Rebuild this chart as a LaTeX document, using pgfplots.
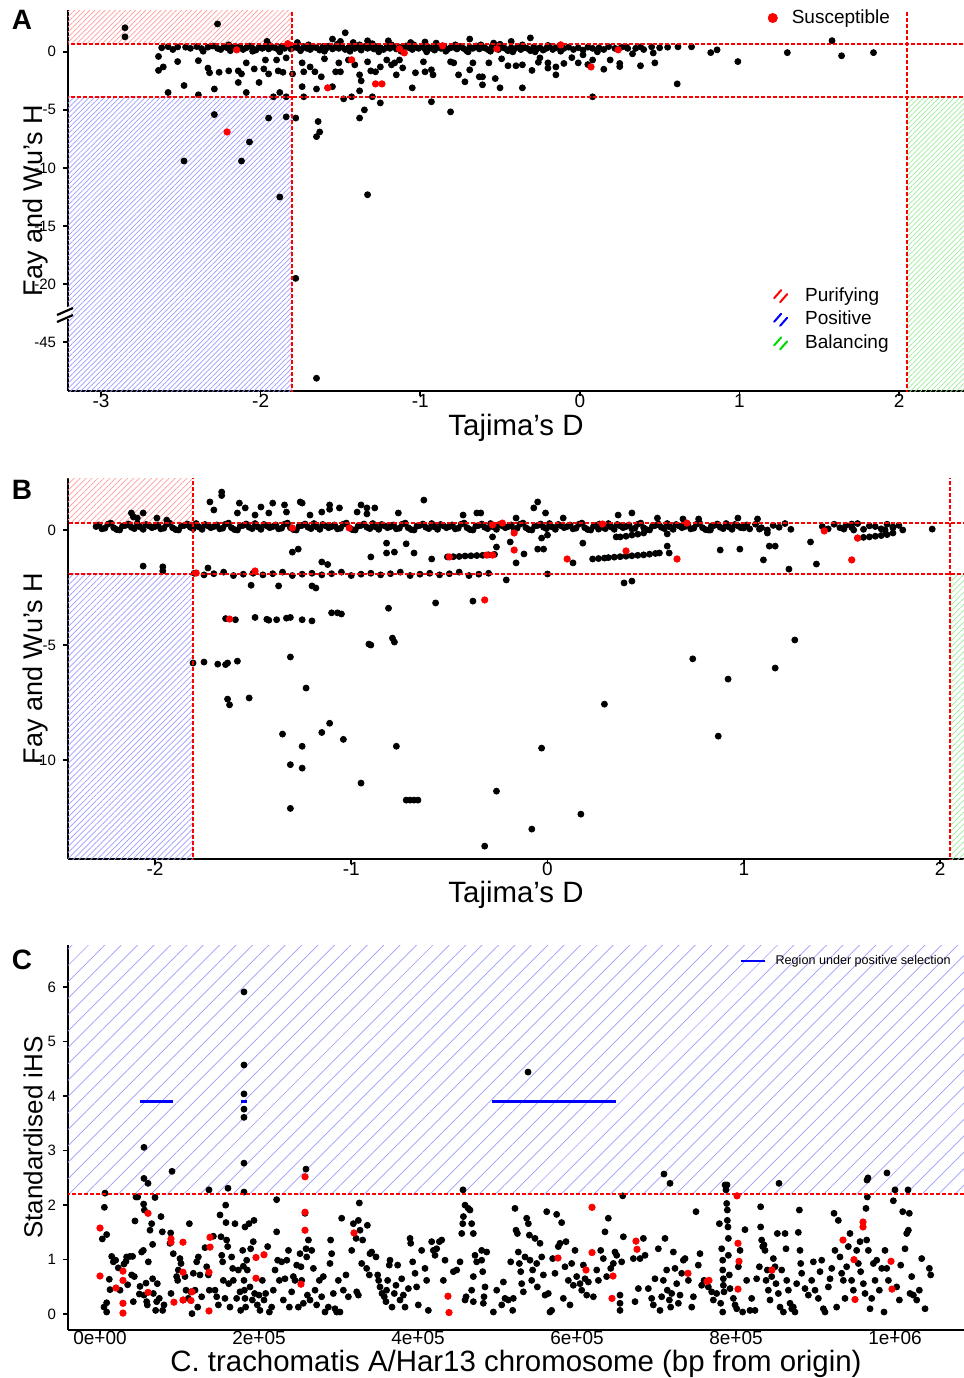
\documentclass[border=0pt]{standalone}
\usepackage{fontspec}
\setmainfont{Liberation Sans}
\usepackage{pgfplots}
\pgfplotsset{compat=1.18}
\usetikzlibrary{patterns.meta}

\definecolor{hatchred}{HTML}{FF9C9C}
\definecolor{hatchblue}{HTML}{9C9CFF}
\definecolor{hatchgreen}{HTML}{9CEB9C}
\definecolor{cutred}{HTML}{FF0000}

\pgfplotsset{
  panel/.style={
    scale only axis, width=448pt,
    axis lines*=left,
    axis line style={line width=1.4pt, black},
    tick align=outside, major tick length=2.5pt,
    every tick/.style={black, line width=0.8pt},
    /pgf/number format/assume math mode=true,
    x tick label style={font=\fontsize{9.5}{10}\selectfont, yshift=4.5pt},
    y tick label style={font=\fontsize{7.5}{8}\selectfont},
    every axis x label/.style={at={(axis description cs:0.5,-0.097)}, anchor=center, font=\fontsize{14.7}{15}\selectfont},
    every axis y label/.style={at={(axis description cs:-0.0368,0.5)}, rotate=90, anchor=center, font=\fontsize{13.5}{14}\selectfont},
    legend style={draw=none, fill=none, inner sep=0pt, outer sep=0pt, font=\fontsize{9.5}{10}\selectfont},
    legend cell align=left,
    clip mode=individual,
  },
  hatch/.style 2 args={draw=none, forget plot, pattern={Lines[angle=45,distance=#1,line width=0.35pt]}, pattern color=#2},
  cut/.style={cutred, line width=0.75pt, dash pattern=on 2pt off 1pt, forget plot},
  dots/.style={only marks, mark=*, mark size=1.5pt, black, mark options={draw=black, fill=black}, forget plot},
  reddots/.style={only marks, mark=*, mark size=1.6pt, red, mark options={draw=red, fill=red}},
}

\begin{document}
\begin{tikzpicture}

% ---------------- panel A ----------------
\begin{axis}[panel, name=axA, at={(34pt,-5pt)}, anchor=north west, height=190.5pt,
  xmin=-3.207, xmax=2.407, ymin=-29.2, ymax=3.6,
  xtick={-3,-2,-1,0,1,2},
  ytick={-25,-20,-15,-10,-5,0}, yticklabels={-45,-20,-15,-10,-5,0},
  xlabel={Tajima's D}, ylabel={Fay and Wu's H},
  legend style={at={(axis description cs:0.781,0.979)}, anchor=west, column sep=5pt}]
\addplot[hatch={1.8pt}{hatchred}] coordinates {(-3.3,0.69) (-1.803,0.69) (-1.803,4) (-3.3,4)} -- cycle;
\addplot[hatch={1.8pt}{hatchblue}] coordinates {(-3.3,-3.88) (-1.803,-3.88) (-1.803,-30) (-3.3,-30)} -- cycle;
\addplot[hatch={1.8pt}{hatchgreen}] coordinates {(2.05,-3.88) (2.5,-3.88) (2.5,-30) (2.05,-30)} -- cycle;
\addplot[dots] coordinates {
(-2.85,2.07)(-2.85,1.29)(-2.27,2.4)
(-2.62,0.35)(-2.58,0.45)(-2.55,0.2)(-2.52,0.42)(-2.47,0.4)(-2.44,0.3)(-2.40,0.45)(-2.37,0.28)(-2.33,0.4)(-2.30,0.5)
(-2.27,0.3)(-2.25,0.2)(-2.23,0.45)(-2.21,0.35)(-2.19,0.1)(-2.17,0.4)(-2.15,0.3)(-2.13,0.45)(-2.11,0.2)(-2.09,0.35)
(-2.07,0.5)(-2.05,0.3)(-2.03,0.15)(-2.01,0.4)(-1.99,0.3)(-1.97,0.45)(-1.95,0.25)(-1.93,0.4)(-1.91,0.35)(-1.89,0.2)
(-1.87,0.45)(-1.85,0.3)(-1.83,0.55)(-1.81,0.25)(-1.79,0.4)(-1.77,0.35)(-1.75,0.1)(-1.73,0.45)(-1.71,0.3)(-1.69,0.2)
(-1.67,0.4)(-1.65,0.35)(-1.63,0.15)(-1.61,0.45)(-1.59,0.3)(-1.57,0.5)(-1.55,0.25)(-1.53,0.4)(-1.51,0.3)(-1.49,0.45)
(-1.47,0.2)(-1.45,0.35)(-1.43,0.5)(-1.41,0.3)(-1.39,0.4)(-1.37,0.15)(-1.35,0.45)(-1.33,0.3)(-1.31,0.4)(-1.29,0.25)
(-1.27,0.45)(-1.25,0.35)(-1.23,0.2)(-1.21,0.4)(-1.19,0.3)(-1.17,0.45)(-1.15,0.25)(-1.13,0.4)(-1.11,0.3)(-1.09,0.5)
(-1.07,0.35)(-1.05,0.2)(-1.03,0.4)(-1.01,0.3)(-0.99,0.45)(-0.97,0.25)(-0.95,0.4)(-0.93,0.3)(-0.91,0.15)(-0.89,0.4)
(-0.87,0.3)(-0.85,0.45)(-0.83,0.2)(-0.81,0.35)(-0.79,0.4)(-0.77,0.25)(-0.75,0.45)(-0.73,0.3)(-0.71,0.1)(-0.69,0.4)
(-0.67,0.3)(-0.65,0.5)(-0.63,0.25)(-0.61,0.4)(-0.59,0.3)(-0.57,0.15)(-0.55,0.45)(-0.53,0.35)(-0.51,0.2)(-0.49,0.4)
(-0.47,0.3)(-0.45,0.1)(-0.43,0.35)(-0.41,0.25)(-0.39,0.4)(-0.37,0.2)(-0.35,0.35)(-0.33,0.3)(-0.31,0.1)(-0.29,0.4)
(-0.27,0.25)(-0.25,0.35)(-0.23,0.15)(-0.21,0.3)(-0.19,0.45)(-0.17,0.2)(-0.15,0.35)(-0.12,0.05)(-0.10,0.3)(-0.07,0.4)
(-0.04,0.2)(-0.01,0.35)(0.02,0.15)(0.05,0.4)(0.08,0.3)(0.12,0.35)(0.15,0.2)(0.18,0.45)(0.22,0.3)(0.26,0.4)(0.30,0.3)
(-2.36,0.05)(-2.2,0.6)(-2.05,0.05)(-1.95,0.6)(-1.88,0.0)(-1.7,0.6)(-1.6,0.05)(-1.52,0.65)(-1.44,0.05)(-1.38,0.6)
(-1.3,0.7)(-1.26,0.0)(-1.18,0.6)(-1.12,0.05)(-1.04,0.6)(-0.96,0.0)(-0.9,0.6)(-0.84,0.05)(-0.78,0.6)(-0.7,0.0)
(-0.62,0.6)(-0.56,0.05)(-0.5,0.65)(-0.42,0.0)(-0.36,0.6)(-0.28,0.0)(-0.2,0.55)
(-1.96,0.9)(-1.77,0.8)(-1.5,0.9)(-1.47,1.64)(-1.55,1.1)(-1.33,0.95)(-1.42,0.8)(-1.2,0.95)(-1.06,0.8)(-0.97,0.85)
(-0.9,0.75)(-0.69,1.1)(-0.54,0.75)(-0.43,0.9)(-0.31,1.2)(1.58,0.96)
(0.615,0.43)(0.70,0.43)(0.82,-0.07)(0.86,0.17)(0.99,-0.84)(1.30,-0.07)(1.64,-0.34)(1.84,-0.07)(0.61,-2.76)(0.08,-3.87)
(0.47,-0.95)(0.46,-0.1)(0.38,-1.2)(0.33,-0.17)(0.25,-1.27)(0.19,-0.7)(0.11,0.0)(0.08,-0.7)(0.02,-0.26)(-0.01,-0.95)
(-0.15,-1.98)(-0.2,-0.95)(-0.2,-1.4)(-0.25,-0.52)(-0.36,-3.1)(-0.36,-1.12)(-0.4,-1.2)(-0.45,-1.2)(-0.5,-3.1)(-0.53,-2.3)
(-0.61,-2.84)(-0.61,-2.15)(-0.57,-0.95)(-0.49,-0.6)(0.29,0.43)(0.38,0.43)(0.45,0.43)
(0.35,0.3)(0.4,0.2)(0.5,0.35)(0.55,0.4)(0.25,-1.0)(0.15,-1.5)(-0.1,-1.0)(-0.05,-0.5)(0.05,-1.1)(-0.3,-1.6)(-0.26,-0.9)(-0.15,-1.3)
(-2.64,-0.4)(-2.64,-1.6)(-2.61,-1.3)(-2.52,-0.84)(-2.58,-3.5)(-2.48,-2.9)(-2.39,-0.76)(-2.33,-1.4)(-2.32,-1.8)(-2.26,-1.76)
(-2.29,-3.2)(-2.39,-3.7)(-2.2,-1.64)(-2.14,-1.64)(-2.14,-2.64)(-2.12,-1.9)(-2.09,-0.95)(-2.09,-3.5)(-2.04,-1.47)(-2.01,-2.64)
(-1.98,-1.47)(-1.97,-0.7)(-1.95,-1.9)(-1.92,-3.87)(-1.9,-0.7)(-1.89,-1.64)(-1.88,-3.5)(-1.84,-3.87)(-1.86,-1.76)(-1.84,-0.52)
(-1.8,-1.9)(-1.74,-0.95)(-1.73,-1.72)(-1.74,-3.0)(-1.73,-3.87)(-1.69,-1.3)(-1.66,-1.72)(-1.65,-3.2)(-1.62,-2.15)(-1.6,-0.6)
(-1.55,-3.0)(-1.53,-1.72)(-1.51,-0.95)(-1.5,-1.72)(-1.48,-4.05)(-1.45,-0.7)(-1.43,-3.87)(-1.41,-1.12)(-1.38,-1.98)(-1.38,-3.36)
(-1.37,-2.5)(-1.35,-5.0)(-1.33,-0.86)(-1.31,-1.64)(-1.3,-3.87)(-1.25,-4.4)(-1.28,-1.72)(-1.25,-1.3)(-1.21,-0.7)(-1.18,-1.12)
(-1.16,-0.95)(-1.15,-1.98)(-1.13,-0.7)(-1.11,-1.38)(-1.05,-3.1)(-1.03,-1.8)(-0.98,-0.86)(-0.97,-1.72)(-0.93,-1.55)(-0.93,-4.3)
(-0.92,-1.98)(-0.81,-0.86)(-0.81,-5.17)(-0.79,-0.95)(-0.76,-1.98)(-0.72,-2.58)(-0.69,-1.55)(-0.63,-2.15)(-0.67,-0.95)
(-1.38,-5.7)(-1.64,-6.0)(-1.63,-6.9)(-1.65,-7.3)(-1.33,-12.3)(-1.78,-5.7)(-1.84,-5.6)(-1.95,-5.7)(-2.29,-5.4)(-2.48,-9.4)
(-2.12,-9.4)(-2.07,-7.76)(-1.88,-12.5)(-1.78,-19.5)(-1.65,-28.1)
};
\addplot[cut] coordinates {(-3.3,0.69) (2.5,0.69)};
\addplot[cut] coordinates {(-3.3,-3.88) (2.5,-3.88)};
\addplot[cut] coordinates {(-1.803,-30) (-1.803,4)};
\addplot[cut] coordinates {(2.05,-30) (2.05,4)};
\addplot[reddots, legend image code/.code={\fill[red] (0pt,0pt) circle (2.3pt);}] coordinates {
(-2.15,0.17)(-2.21,-6.9)(-1.83,0.7)(-1.58,-3.1)(-1.28,-2.76)(-1.24,-2.76)(-1.43,-0.69)(-1.13,0.26)(-1.10,-0.09)
(-0.86,0.52)(-0.52,0.26)(-0.12,0.6)(0.24,0.17)(0.07,-1.3)
};
\addlegendentry{Susceptible}
\end{axis}

% legend of the shaded areas in panel A
\begin{axis}[at={(34pt,-5pt)}, anchor=north west, scale only axis, width=448pt, height=190.5pt,
  hide axis, xmin=0, xmax=1, ymin=0, ymax=1,
  legend style={draw=none, fill=none, inner sep=0pt, outer sep=0pt, font=\fontsize{9.5}{10}\selectfont,
    at={(axis description cs:0.787,0.187)}, anchor=west, column sep=8.5pt, row sep=2.8pt,
    nodes={inner sep=0pt, text height=7pt, text depth=2pt}},
  legend cell align=left]
\addlegendimage{legend image code/.code={\draw[red, line width=1pt, line cap=round] (0pt,-1pt)--(3.5pt,3pt); \draw[red, line width=1pt, line cap=round] (3pt,-3pt)--(6.5pt,1pt);}}
\addlegendentry{Purifying}
\addlegendimage{legend image code/.code={\draw[blue, line width=1pt, line cap=round] (0pt,-1pt)--(3.5pt,3pt); \draw[blue, line width=1pt, line cap=round] (3pt,-3pt)--(6.5pt,1pt);}}
\addlegendentry{Positive}
\addlegendimage{legend image code/.code={\draw[green!85!black, line width=1pt, line cap=round] (0pt,-1pt)--(3.5pt,3pt); \draw[green!85!black, line width=1pt, line cap=round] (3pt,-3pt)--(6.5pt,1pt);}}
\addlegendentry{Balancing}
\end{axis}

% ---------------- panel B ----------------
\begin{axis}[panel, name=axB, at={(34pt,-239pt)}, anchor=north west, height=190.5pt,
  xmin=-2.443, xmax=2.122, ymin=-14.3, ymax=2.26,
  xtick={-2,-1,0,1,2}, ytick={-10,-5,0},
  every axis x label/.append style={at={(axis description cs:0.5,-0.0945)}},
  xlabel={Tajima's D}, ylabel={Fay and Wu's H}]
\addplot[hatch={2.1pt}{hatchred}] coordinates {(-2.5,0.30) (-1.806,0.30) (-1.806,2.5) (-2.5,2.5)} -- cycle;
\addplot[hatch={2.1pt}{hatchblue}] coordinates {(-2.5,-1.91) (-1.806,-1.91) (-1.806,-15) (-2.5,-15)} -- cycle;
\addplot[hatch={2.1pt}{hatchgreen}] coordinates {(2.05,-1.91) (2.2,-1.91) (2.2,-15) (2.05,-15)} -- cycle;
\addplot[dots] coordinates {
(-2.30,0.15)(-2.27,0.05)(-2.24,0.25)(-2.21,0.10)(-2.18,0.00)(-2.15,0.20)(-2.12,0.12)(-2.09,0.28)(-2.06,0.03)(-2.03,0.18)
(-2.00,0.15)(-1.97,0.05)(-1.94,0.25)(-1.91,0.10)(-1.88,0.00)(-1.85,0.20)(-1.82,0.12)(-1.79,0.28)(-1.76,0.03)(-1.73,0.18)
(-1.70,0.15)(-1.67,0.05)(-1.64,0.25)(-1.61,0.10)(-1.58,0.00)(-1.55,0.20)(-1.52,0.12)(-1.49,0.28)(-1.46,0.03)(-1.43,0.18)
(-1.40,0.15)(-1.37,0.05)(-1.34,0.25)(-1.31,0.10)(-1.28,0.00)(-1.25,0.20)(-1.22,0.12)(-1.19,0.28)(-1.16,0.03)(-1.13,0.18)
(-1.10,0.15)(-1.07,0.05)(-1.04,0.25)(-1.01,0.10)(-0.98,0.00)(-0.95,0.20)(-0.92,0.12)(-0.89,0.28)(-0.86,0.03)(-0.83,0.18)
(-0.80,0.15)(-0.77,0.05)(-0.74,0.25)(-0.71,0.10)(-0.68,0.00)(-0.65,0.20)(-0.62,0.12)(-0.59,0.28)(-0.56,0.03)(-0.53,0.18)
(-0.50,0.15)(-0.47,0.05)(-0.44,0.25)(-0.41,0.10)(-0.38,0.00)(-0.35,0.20)(-0.32,0.12)(-0.29,0.28)(-0.26,0.03)(-0.23,0.18)
(-0.20,0.15)(-0.17,0.05)(-0.14,0.25)(-0.11,0.10)(-0.08,0.00)(-0.05,0.20)(-0.02,0.12)(0.01,0.28)(0.04,0.03)(0.07,0.18)
(0.10,0.15)(0.13,0.05)(0.16,0.25)(0.19,0.10)(0.22,0.00)(0.25,0.20)(0.28,0.12)(0.31,0.28)(0.34,0.03)(0.37,0.18)
(0.40,0.15)(0.43,0.05)(0.46,0.25)(0.49,0.10)(0.52,0.00)(0.55,0.20)(0.58,0.12)(0.61,0.28)(0.64,0.03)(0.67,0.18)
(0.70,0.15)(0.73,0.05)(0.76,0.25)(0.79,0.10)(0.82,0.00)(0.85,0.20)(0.88,0.12)(0.91,0.28)(0.94,0.03)(0.97,0.18)
(1.00,0.15)(1.03,0.05)(1.06,0.25)(1.09,0.10)(1.12,0.00)(1.15,0.20)(1.18,0.12)(1.21,0.28)(1.24,0.03)
(-2.285,0.22)(-2.255,0.08)(-2.225,0.30)(-2.195,0.02)(-2.165,0.17)(-2.135,0.26)(-2.105,0.06)(-2.075,0.13)(-2.045,0.24)(-2.015,0.10)
(-1.985,0.22)(-1.955,0.08)(-1.925,0.30)(-1.895,0.02)(-1.865,0.17)(-1.835,0.26)(-1.805,0.06)(-1.775,0.13)(-1.745,0.24)(-1.715,0.10)
(-1.685,0.22)(-1.655,0.08)(-1.625,0.30)(-1.595,0.02)(-1.565,0.17)(-1.535,0.26)(-1.505,0.06)(-1.475,0.13)(-1.445,0.24)(-1.415,0.10)
(-1.385,0.22)(-1.355,0.08)(-1.325,0.30)(-1.295,0.02)(-1.265,0.17)(-1.235,0.26)(-1.205,0.06)(-1.175,0.13)(-1.145,0.24)(-1.115,0.10)
(-1.085,0.22)(-1.055,0.08)(-1.025,0.30)(-0.995,0.02)(-0.965,0.17)(-0.935,0.26)(-0.905,0.06)(-0.875,0.13)(-0.845,0.24)(-0.815,0.10)
(-0.785,0.22)(-0.755,0.08)(-0.725,0.30)(-0.695,0.02)(-0.665,0.17)(-0.635,0.26)(-0.605,0.06)(-0.575,0.13)(-0.545,0.24)(-0.515,0.10)
(-0.485,0.22)(-0.455,0.08)(-0.425,0.30)(-0.395,0.02)(-0.365,0.17)(-0.335,0.26)(-0.305,0.06)(-0.275,0.13)(-0.245,0.24)(-0.215,0.10)
(-0.185,0.22)(-0.155,0.08)(-0.125,0.30)(-0.095,0.02)(-0.065,0.17)(-0.035,0.26)(-0.005,0.06)(0.025,0.13)(0.055,0.24)(0.085,0.10)
(0.115,0.22)(0.145,0.08)(0.175,0.30)(0.205,0.02)(0.235,0.17)(0.265,0.26)(0.295,0.06)(0.325,0.13)(0.355,0.24)(0.385,0.10)
(0.415,0.22)(0.445,0.08)(0.475,0.30)(0.505,0.02)(0.535,0.17)(0.565,0.26)(0.595,0.06)(0.625,0.13)(0.655,0.24)(0.685,0.10)
(0.715,0.22)(0.745,0.08)(0.775,0.30)(0.805,0.02)(0.835,0.17)(0.865,0.26)(0.895,0.06)(0.925,0.13)(0.955,0.24)(0.985,0.10)(1.015,0.22)
(1.40,0.15)(1.43,0.05)(1.46,0.25)(1.49,0.10)(1.52,0.20)(1.55,0.12)(1.58,0.28)(1.61,0.03)(1.64,0.18)(1.67,0.15)
(1.70,0.05)(1.73,0.25)(1.76,0.10)(1.79,0.20)
(-1.66,1.65)(-1.66,1.5)(-1.72,1.22)(-1.70,0.87)(-1.58,0.74)(-1.57,1.17)(-1.54,0.96)(-1.49,0.65)(-1.46,1.0)(-1.42,0.74)
(-1.4,1.17)(-1.34,1.09)(-1.33,0.78)(-1.26,1.22)(-1.25,1.17)(-1.21,0.65)(-1.15,0.78)(-1.11,1.09)(-1.11,0.9)(-1.06,0.96)
(-0.97,0.78)(-0.95,1.09)(-0.92,0.96)(-0.92,0.7)(-0.88,0.96)(-0.76,0.74)(-0.63,1.3)(-0.43,0.65)(-0.36,0.74)
(-2.12,0.74)(-2.11,0.57)(-2.06,0.74)(-2.09,0.52)(-1.99,0.52)(-1.94,0.43)
(-0.34,0.74)(-0.07,0.96)(-0.05,1.22)(-0.01,0.74)(-0.16,0.52)(0.08,0.52)(0.36,0.65)(0.43,0.74)(0.56,0.52)(0.69,0.48)
(0.77,0.48)(0.97,0.52)(1.07,0.48)
(-1.80,-1.88)(-1.75,-1.95)(-1.70,-1.90)(-1.65,-1.83)(-1.60,-1.98)(-1.55,-1.92)(-1.50,-1.88)(-1.45,-1.95)(-1.40,-1.90)(-1.35,-1.83)
(-1.30,-1.98)(-1.25,-1.92)(-1.20,-1.88)(-1.15,-1.95)(-1.10,-1.90)(-1.05,-1.83)(-1.00,-1.98)(-0.95,-1.92)(-0.90,-1.88)(-0.85,-1.95)
(-0.80,-1.90)(-0.75,-1.83)(-0.70,-1.98)(-0.65,-1.92)(-0.60,-1.88)(-0.55,-1.95)(-0.50,-1.90)(-0.45,-1.83)(-0.40,-1.98)(-0.35,-1.92)(-0.30,-1.88)
(-2.06,-1.57)(-1.96,-1.6)(-1.96,-1.78)(-1.73,-1.65)(-1.51,-2.4)(-1.37,-2.43)(-1.2,-2.43)(-1.18,-2.52)(-1.15,-1.39)(-1.12,-1.5)
(-1.3,-0.96)(-1.27,-0.83)(-0.82,-0.57)(-0.78,-0.96)(-0.72,-0.6)(-0.68,-1.0)(-0.9,-1.17)(-0.82,-1.0)(-0.59,-1.26)(-0.57,-3.17)
(-0.38,-3.09)(-0.81,-3.4)(-0.9,-5.0)(-0.78,-4.87)(-1.07,-3.6)(-1.05,-3.65)
(-0.51,-1.17)(-0.48,-1.16)(-0.45,-1.15)(-0.42,-1.13)(-0.39,-1.12)(-0.36,-1.11)(-0.33,-1.1)(-0.30,-1.08)(-0.27,-1.06)
(0.23,-1.26)(0.26,-1.24)(0.29,-1.22)(0.31,-1.2)(0.34,-1.18)(0.37,-1.16)(0.40,-1.14)(0.43,-1.12)(0.46,-1.1)(0.49,-1.08)
(0.52,-1.05)(0.55,-1.02)(0.57,-1.0)(0.37,-0.3)(0.40,-0.27)(0.43,-0.22)(0.46,-0.18)(0.49,-0.13)
(1.58,-0.35)(1.61,-0.32)(1.64,-0.3)(1.67,-0.27)(1.70,-0.24)(1.73,-0.2)(1.76,-0.13)
(-0.28,-0.3)(-0.26,-0.74)(-0.21,-2.17)(-0.19,-0.52)(-0.16,-1.43)(-0.12,-1.04)(-0.05,-0.83)(-0.02,-0.83)(-0.03,-0.35)(0.0,-0.22)
(0.0,-1.91)(0.13,-1.43)(0.18,-0.57)(0.26,0.04)(0.35,-0.3)(0.39,-2.3)(0.43,-2.22)(0.61,-0.17)(0.61,-0.7)(0.62,-1.0)
(0.83,0.0)(0.88,-0.87)(0.98,-0.83)(1.0,0.09)(1.08,0.04)(1.1,-1.3)(1.12,-0.13)(1.13,-0.7)(1.16,-0.7)(1.23,-1.7)
(1.34,-0.52)(1.37,-1.48)(1.51,0.04)(1.55,0.26)(1.56,0.0)(1.72,0.0)(1.76,0.13)(1.81,0.0)(1.96,0.04)
(-1.806,-5.78)(-1.75,-5.74)(-1.68,-5.83)(-1.63,-5.78)(-1.58,-5.7)(-1.64,-5.85)(-1.63,-7.35)(-1.52,-7.3)(-1.62,-7.6)
(-1.64,-3.85)(-1.59,-3.9)(-1.49,-3.8)(-1.43,-3.88)(-1.42,-3.92)(-1.38,-3.9)(-1.31,-3.8)(-1.25,-3.9)(-1.2,-3.95)(-1.33,-3.83)
(-1.35,-8.87)(-1.31,-10.2)(-1.25,-9.4)(-1.15,-8.8)(-1.11,-8.4)(-1.31,-12.1)(-1.25,-10.35)(-1.04,-9.1)(-0.95,-11.0)(-0.91,-4.96)
(-0.79,-4.7)(-0.77,-9.4)(-0.72,-11.74)(-0.7,-11.74)(-0.68,-11.74)(-0.66,-11.74)(-0.26,-11.35)(-0.32,-13.74)(-0.08,-13.0)(-0.03,-9.48)
(0.17,-12.35)(0.29,-7.57)(0.74,-5.6)(0.87,-8.96)(0.92,-6.48)(1.16,-6.0)(1.26,-4.78)(-1.31,-5.52)(-1.23,-6.87)(-1.1,-3.6)
};
\addplot[cut] coordinates {(-2.5,0.30) (2.2,0.30)};
\addplot[cut] coordinates {(-2.5,-1.91) (2.2,-1.91)};
\addplot[cut] coordinates {(-1.806,-15) (-1.806,2.5)};
\addplot[cut] coordinates {(2.05,-15) (2.05,2.5)};
\addplot[reddots, forget plot] coordinates {
(-1.79,-1.87)(-1.62,-3.87)(-1.49,-1.78)(-1.3,0.09)(-1.01,0.09)(-0.5,-1.17)(-0.32,-3.04)(-0.23,0.3)(-0.28,0.22)(-0.17,-0.13)
(-0.17,-0.87)(-0.31,-1.09)(-0.28,-1.09)(0.1,-1.26)(0.28,0.26)(0.4,-0.91)(0.66,-1.26)(0.71,0.3)(1.41,-0.04)(1.55,-1.3)(1.58,-0.35)
};
\end{axis}

% ---------------- panel C ----------------
\begin{axis}[panel, name=axC, at={(34pt,-472.5pt)}, anchor=north west, height=192.5pt,
  xmin=-40.25, xmax=1086.8, ymin=-0.29, ymax=6.77,
  xtick={0,200,400,600,800,1000}, xticklabels={0e+00,2e+05,4e+05,6e+05,8e+05,1e+06},
  ytick={0,1,2,3,4,5,6},
  x tick label style={yshift=1pt},
  every axis x label/.append style={at={(axis description cs:0.5,-0.089)}},
  every axis y label/.append style={at={(axis description cs:-0.039,0.5)}, font=\fontsize{13}{14}\selectfont},
  xlabel={C. trachomatis A/Har13 chromosome (bp from origin)}, ylabel={Standardised iHS},
  legend style={at={(axis description cs:0.75,0.958)}, anchor=west, column sep=3pt, font=\fontsize{6.3}{7}\selectfont}]
\addplot[hatch={5.8pt}{hatchblue}] coordinates {(-50,2.2) (1100,2.2) (1100,7) (-50,7)} -- cycle;
\addplot[dots] coordinates {
(6.3,2.22)(55.3,3.06)(55.3,2.49)(90.6,2.62)(60.4,2.4)(181.1,5.91)(181.1,4.57)(181.1,4.04)(181.1,3.76)(181.1,3.61)
(181.1,2.77)(259.1,2.66)(137.1,2.28)(161,2.31)(181.1,2.24)(538.4,4.44)(456.6,2.28)(709.4,2.57)(717,2.4)(788.7,2.37)
(854.1,2.4)(966,2.5)(989.9,2.59)(1000,2.28)(1016.4,2.28)(964.8,2.46)
(5.5,1.96)(8.4,1.46)(2.9,1.38)(5,0.13)(8.4,0.21)(8.4,0.04)(11.7,0.64)(12.6,0.45)(14.7,1.06)(16.8,0.96)
(19.7,0.99)(23,0.85)(25.2,0.44)(30.2,0.92)(32.7,0.97)(33.5,1.05)(34.8,0.54)(37.7,1.06)(41,1.06)(39.8,0.72)
(41.9,0.23)(43.2,0.69)(44,1.71)(45.3,2.15)(47.4,2.15)(49.5,0.37)(50.3,0.51)(52.4,1.14)(54.5,1.17)(54.9,2.02)
(55.8,1.91)(55.3,0.35)(57.9,0.57)(58.7,0.23)(59.5,0.17)(60.8,0.96)(62.9,1.54)(65,1.66)(66.2,1.28)(66.2,0.65)
(67.1,0.38)(69.2,2.14)(70,0.07)(71.3,0.23)(72.1,0.56)(74.6,0.29)(76.7,1.79)(78.4,1.51)(78.8,0.07)(80.5,0.17)
(88,1.3)(88.9,1.49)(89.3,0.38)(92.2,1.11)(96.4,0.69)(97.7,0.62)(98.5,0.81)(100.6,1.02)(101.9,0.93)(104.8,0.26)
(106.9,0.69)(108.2,0.44)(111.1,0.29)(112.4,1.66)(114.1,0.41)(115.7,0.01)(117.4,0.75)(119.5,0.44)(121.6,0.96)(122.9,0.13)
(123.7,1.05)(125.8,0.72)(127.9,0.32)(132.1,1.22)(134.2,0.87)(136.3,0.72)(137.5,0.44)(142.6,1.43)(144.7,0.44)(146.8,0.32)
(148.9,0.17)(151,1.82)(152.2,1.42)(153.1,1.08)(154.3,0.96)(155.1,0.62)(157.2,0.29)(158.1,2.0)(158.5,1.68)(159.3,1.36)
(160.6,1.24)(161.9,0.56)(163.5,0.13)(165.6,1.05)(166.9,0.84)(167.7,0.62)(169.8,1.66)(171.9,0.29)(174,0.81)(176.1,0.41)
(176.9,0.07)(179.5,1.17)(180.3,0.88)(181.1,0.62)(181.6,0.44)(182.4,1.6)(182.4,0.29)(183.2,0.13)(184.5,0.99)(185.3,0.81)
(187.4,1.66)(188.7,0.5)(189.5,1.2)(191.6,0.26)(192.8,1.33)(193.7,1.72)(194.5,0.38)(197.9,0.17)(200,0.35)(201.2,0.07)
(204.2,0.62)(206.3,0.26)(208.4,0.38)(210.9,1.24)(213,0.04)(215.9,0.13)(218,0.44)(220.2,0.81)(222.2,2.1)(222.2,1.51)
(223.5,0.99)(225.6,0.62)(228.5,0.96)(230.6,0.26)(232.7,0.65)(235,0.99)(237.1,1.17)(238.2,0.13)(241.1,0.41)(243.2,0.69)
(245.3,0.62)(247.4,0.9)(249.5,0.13)(251.6,1.11)(252.8,0.87)(253.7,0.62)(255.8,0.2)(257.9,1.85)(259.2,1.2)(260,1.05)
(260.9,0.35)(262.2,1.36)(264.2,0.26)(266.3,1.17)(268.4,0.84)(270.5,0.44)(272.5,0.17)(275.9,0.62)(278.8,0.32)(280.9,0.69)
(283,0.04)(287.2,0.13)(289.3,0.93)(290.1,1.36)(291.4,1.11)(293.5,0.38)(295.6,0.1)(297.7,0.04)(299.8,0.62)(301.9,0.04)
(304,1.76)(306.1,0.44)(309.4,0.72)(312.4,0.32)(316.6,1.17)(318.7,1.66)(322.1,1.39)(325,1.72)(326.2,2.04)(327.1,1.54)
(329.2,0.93)(330.4,1.36)(322.9,0.41)(325,0.35)(336.3,1.63)(339.6,1.11)(341.7,1.14)(335.4,0.84)(338.8,0.72)(347.2,1.05)
(349.3,0.72)(350.5,0.62)(352.2,0.5)(354.7,0.38)(357.6,0.32)(359.7,0.23)(360.5,0.44)(361.8,0.62)(363.9,0.9)(364.8,0.99)
(367.3,0.13)(370.2,0.38)(372.3,0.53)(374.4,0.9)(377.4,0.26)(379.5,0.65)(381.6,0.35)(383.7,0.13)(387.9,0.47)(390,1.39)
(390.8,1.3)(393.3,0.96)(396.3,0.75)(398.3,0.5)(400.4,0.17)(404.6,1.17)(408.8,0.84)(410.9,0.62)(413,0.07)(417.2,1.33)
(419.3,1.17)(421.4,1.08)(423.5,1.2)(426.9,1.33)(429.8,1.36)(431.9,0.62)(434,0.99)(444.5,0.78)(448.7,0.81)(452.9,0.96)
(455,1.48)(456.3,1.66)(457.1,1.79)(459.2,2.0)(460.5,0.32)(463.3,1.94)(465.4,1.91)(467.5,1.66)(469.6,1.48)(471.7,1.08)
(473.8,0.96)(469.6,0.69)(467.5,0.44)(459.2,0.26)(469.6,0.23)
(480.1,1.17)(480.1,0.99)(481.4,0.78)(484.3,0.5)(483,0.32)(482.2,0.2)(486.4,1.14)(494.8,0.04)(499,0.44)(505.3,0.17)
(507.4,0.59)(509.4,0.29)(513.6,0.26)(516.6,0.96)(519.1,0.07)(519.9,0.29)(522,1.94)(523.3,1.54)(525,1.48)(526.2,1.14)
(527.5,0.93)(529.2,0.78)(530.4,0.56)(532.5,0.41)(534.6,1.05)(536.7,1.76)(538.8,1.66)(540.1,1.45)(540.9,0.99)(543,0.62)
(544.2,0.81)(547.2,1.39)(549.3,0.93)(550.1,0.5)(553.5,1.3)(555.6,1.05)(557.7,0.72)(559.8,0.35)(561.9,1.88)(563.9,0.38)
(566,0.04)(568.1,0.07)(569.4,1.02)(572.3,0.75)(574.4,1.83)(576.5,1.24)(578.6,1.3)(580.7,1.68)(582.8,0.29)(584.9,0.87)
(586.2,1.33)(589.1,0.62)(591.2,0.17)(593.3,0.93)(595.4,0.53)(597.5,1.17)(599.6,0.69)(603.8,0.56)(605.9,0.44)(608,0.9)
(610.1,0.65)(612.2,0.35)(614.3,0.59)(620.6,0.32)(624.8,0.81)(626.9,0.62)(629.8,1.17)(633.1,1.02)(635.2,1.51)(637.3,0.69)
(639.4,1.76)(642.4,0.84)(645.7,0.93)(647.8,1.14)(649.9,1.08)(654.1,0.35)(654.1,0.2)(654.1,0.07)(656.2,0.96)(658.3,1.42)
(657.5,2.17)(670.9,1.02)(673,0.23)(677.2,0.47)(679.3,1.02)(683.5,1.39)(685.6,1.08)(689.7,0.47)(693.9,0.29)(696,0.17)
(698.1,0.65)(702.3,1.2)(704.4,0.07)(706.5,0.32)(708.6,0.62)(710.7,1.39)(712.8,0.81)(713.6,0.44)(716.2,0.26)(717.8,0.13)
(719.1,0.38)(721.2,1.14)(723.3,0.84)(725.4,0.56)(727.5,0.2)(729.6,0.35)(731.7,0.75)(733.8,0.99)(735.9,1.02)(740.1,0.62)
(744.3,0.13)(746.4,0.32)(749.7,1.88)(752.6,0.9)(754.7,1.11)(756.8,0.53)(759.8,0.62)(765.2,0.5)(769.4,0.41)(771.5,0.26)
(775.7,0.38)(779.1,1.66)(780.7,0.2)(782,1.2)(783.3,0.99)(783.3,0.81)(784.1,0.65)(784.1,0.53)(784.9,0.41)(783.3,0.04)
(786.2,2.37)(787.4,2.28)(788.3,2.03)(789.1,1.91)(789.1,1.72)(789.9,1.6)(790.4,1.39)(790.4,1.08)(791.6,0.72)(792.5,0.47)
(796.7,0.29)(798.8,0.17)(800.9,0.1)(803,0.87)(805.1,1.17)(808.4,0.04)(811.3,1.55)(813.4,0.62)(817.6,0.07)(819.7,0.29)
(823.9,0.07)(826,0.65)(829.4,0.87)(831,1.97)(831,1.6)(832.3,1.36)(833.6,1.24)(835.2,1.27)(836.5,1.17)(837.8,0.62)
(839.4,0.81)(840.7,0.44)(842.8,0.26)(844.9,0.69)(847,1.02)(849.1,0.87)(850.3,0.56)(852,1.48)(853.3,0.38)(855.4,0.13)
(857.5,0.81)(859.6,0.04)(861.7,1.48)(862.9,1.2)(863.8,0.62)(865.9,0.44)(868,0.2)(870.1,0.1)(872.1,0.13)(874.2,0.04)
(876.3,0.56)(878.4,1.5)(879.7,1.91)(880.5,1.17)(881.4,0.93)(882.6,0.75)(886.8,0.47)(891,0.35)(895.2,0.62)(897.3,0.96)
(899.4,0.44)(903.6,0.29)(905.7,0.78)(907.8,0.99)(909.9,0.1)(912,0.04)(916.2,0.5)(918.3,0.65)(920.4,0.84)(923.3,1.85)
(924.5,1.17)(926.6,0.13)(928.7,1.72)(930.8,1.05)(932.9,0.75)(935,0.62)(937.1,0.29)(939.2,0.87)(941.3,1.24)(943.4,1.48)
(945.4,0.62)(947.6,0.44)(951.8,1.17)(953.9,0.93)(956,1.33)(956.8,0.78)(960.2,0.56)(962.3,0.38)(963.5,1.94)(964.4,1.36)
(965.2,2.15)(966.5,1.17)(968.6,0.1)(970.7,0.29)(972.8,0.93)(974.9,0.62)(977,0.99)(980.3,0.44)(983.3,0.84)(986.2,0.04)
(987.4,1.17)(989.6,0.84)(991.7,0.62)(997.9,2.08)(1002.1,0.5)(1005.5,0.26)(1007.2,0.9)(1009.7,1.88)(1012.6,1.2)(1014.7,1.48)
(1016.8,1.54)(1018,1.85)(1018.9,0.38)(1021,0.69)(1023.1,0.35)(1027.3,0.26)(1030.6,0.44)(1033.6,1.02)(1037.8,0.1)(1043.2,0.84)(1044.9,0.72)
};
\addplot[cut] coordinates {(-50,2.2) (1100,2.2)};
\addplot[reddots, forget plot] coordinates {
(0,1.58)(0,0.70)(28.9,0.79)(28.9,0.62)(28.9,0.2)(28.9,0.02)(20.1,0.48)(60.4,1.85)(60.4,0.4)(89.3,1.38)
(89.3,1.32)(104.4,1.32)(104.4,0.77)(93,0.22)(104.4,0.26)(115.7,0.41)(114.4,0.25)(138.4,1.41)(138.4,1.23)(137.1,0.77)
(137.1,0.06)(196.2,1.04)(206.3,1.09)(196.2,0.66)(257.9,1.87)(257.9,1.54)(252.8,0.55)(319.5,1.49)(437.7,0.33)(439,0.03)
(257.9,2.52)(618.9,1.96)(618.9,1.13)(611.3,0.81)(576.1,1.03)(644,0.29)(645.3,0.7)(674.2,1.34)(675.5,1.19)(739.6,0.75)
(766,0.62)(763.5,0.6)(801.3,2.17)(802.5,1.3)(803.8,0.97)(802.5,0.46)(845.3,0.81)(934.6,1.36)(948.4,1.0)(949.7,0.27)
(959.8,1.69)(959.8,1.6)(995,0.97)(996.2,0.46)
};
\addplot[blue, line width=1.6pt, forget plot] coordinates {(50.3,3.9) (91.8,3.9)};
\addplot[blue, line width=1.6pt, forget plot] coordinates {(177.5,3.9) (184.5,3.9)};
\addplot[blue, line width=1.6pt, legend image code/.code={\draw[blue, line width=0.8pt] (0pt,0pt)--(12pt,0pt);}] coordinates {(493,3.9) (649,3.9)};
\addlegendentry{Region under positive selection}
\end{axis}

% axis break on panel A and panel letters
\fill[white] (32.5pt,-153.5pt) rectangle (35.5pt,-159.5pt);
\draw[line width=1.1pt] (28.5pt,-157.5pt) -- (36.5pt,-154pt);
\draw[line width=1.1pt] (28.5pt,-161pt) -- (36.5pt,-157.5pt);
\node[font=\bfseries\fontsize{14}{14}\selectfont] at (11pt,-10pt) {A};
\node[font=\bfseries\fontsize{14}{14}\selectfont] at (11pt,-245pt) {B};
\node[font=\bfseries\fontsize{14}{14}\selectfont] at (11pt,-480pt) {C};

\pgfresetboundingbox
\path[use as bounding box] (0pt,0pt) rectangle (482pt,-689pt);
\end{tikzpicture}
\end{document}
